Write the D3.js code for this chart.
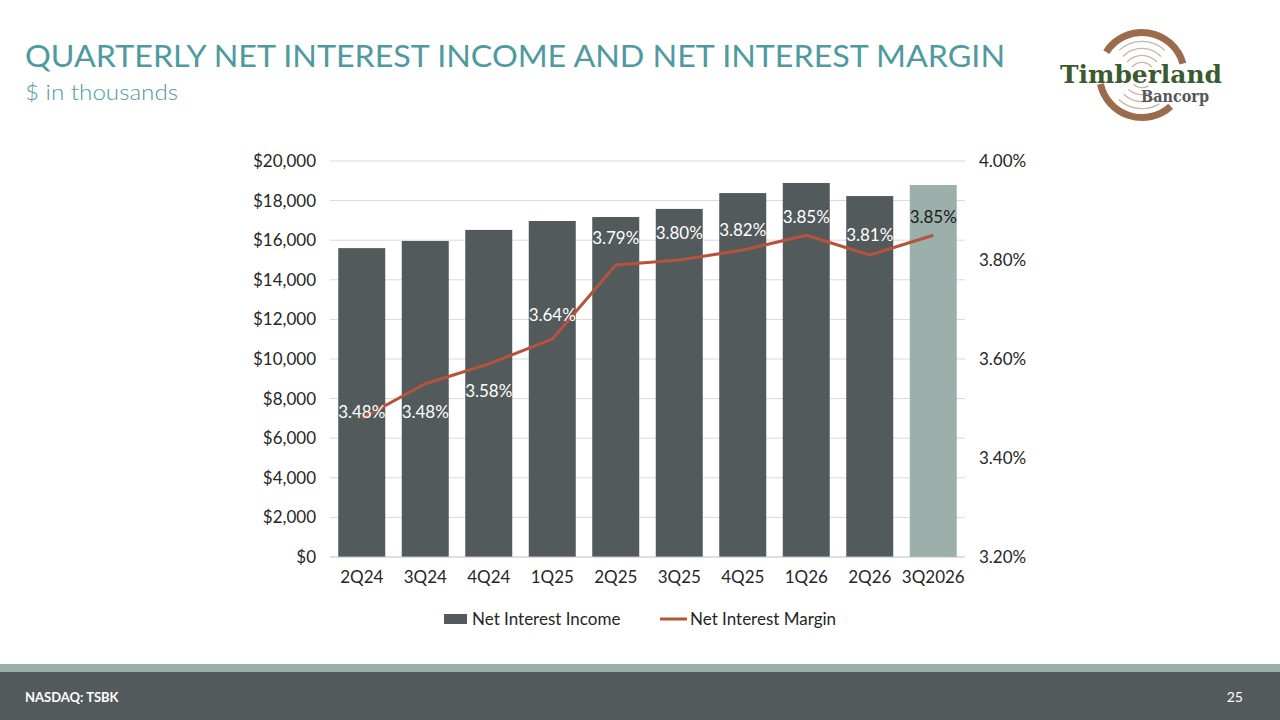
<!DOCTYPE html>
<html>
<head>
  <meta charset="utf-8">
  <title>Quarterly Net Interest Income and Net Interest Margin</title>
  <script src="https://d3js.org/d3.v7.min.js"></script>
  <style>
    body { margin: 0; background: #fff; }
    svg { display: block; font-family: Lato, "Open Sans", sans-serif; }
  </style>
</head>
<body>
  <svg width="1280" height="720"></svg>
  <script>
    // data
    var quarters = ["2Q24", "3Q24", "4Q24", "1Q25", "2Q25", "3Q25", "4Q25", "1Q26", "2Q26", "3Q2026"];
    var netInterestIncome = [15600, 15960, 16520, 16970, 17170, 17580, 18380, 18890, 18230, 18790];
    var netInterestMargin = [3.48, 3.55, 3.59, 3.64, 3.79, 3.80, 3.82, 3.85, 3.81, 3.85];
    var marginLabels = ["3.48%", "3.48%", "3.58%", "3.64%", "3.79%", "3.80%", "3.82%", "3.85%", "3.81%", "3.85%"];
    var leftTicks = [0, 2000, 4000, 6000, 8000, 10000, 12000, 14000, 16000, 18000, 20000];
    var rightTicks = [3.2, 3.4, 3.6, 3.8, 4.0];

    // label nudges (px, relative to the line point), labels were hand placed
    var labelShift = [-6, 28, 27, -24, -27, -27, -20, -18, -20, -18];

    var svg = d3.select("svg"),
        margin = {top: 161, left: 330, right: 315, bottom: 163},
        width = 1280 - margin.left - margin.right,
        height = 720 - margin.top - margin.bottom;

    var barColor = "#525a5c", lastBarColor = "#9bb0aa", lineColor = "#b5533c", teal = "#4e9aa0";
    var fs = "17px";

    // title
    svg.append("text")
        .attr("x", 25).attr("y", 67)
        .attr("fill", teal)
        .style("font-size", "31px").style("font-weight", 400)
        .attr("textLength", 980).attr("lengthAdjust", "spacingAndGlyphs")
        .text("QUARTERLY NET INTEREST INCOME AND NET INTEREST MARGIN");
    svg.append("text")
        .attr("x", 25).attr("y", 100)
        .attr("fill", teal)
        .style("font-size", "22px").style("font-weight", 300)
        .attr("textLength", 153).attr("lengthAdjust", "spacingAndGlyphs")
        .text("$ in thousands");

    // logo
    var logo = svg.append("g").attr("transform", "translate(1142,75)");
    var arc = d3.arc();
    logo.append("path")
        .attr("d", arc({innerRadius: 39, outerRadius: 46, startAngle: -1.0, endAngle: 1.3}))
        .attr("fill", "#9c6b4c");
    logo.append("path")
        .attr("d", arc({innerRadius: 39, outerRadius: 46, startAngle: 2.4, endAngle: 4.5}))
        .attr("fill", "#9c6b4c");
    [12, 19, 26, 33].forEach(function(r, i) {
      logo.append("path")
          .attr("d", arc({innerRadius: r, outerRadius: r + 1.3, startAngle: -0.9 + i * 0.05, endAngle: 0.9 - i * 0.05}))
          .attr("fill", "#c9b6a8");
      logo.append("path")
          .attr("d", arc({innerRadius: r, outerRadius: r + 1.3, startAngle: 2.6, endAngle: 3.9}))
          .attr("fill", "#c9b6a8");
    });
    logo.append("text")
        .attr("x", -1).attr("y", 8)
        .attr("text-anchor", "middle")
        .attr("fill", "#3c5a30")
        .style("font-family", "'DejaVu Serif', serif").style("font-weight", "bold")
        .style("font-size", "25px")
        .attr("textLength", 162).attr("lengthAdjust", "spacingAndGlyphs")
        .text("Timberland");
    logo.append("text")
        .attr("x", 33).attr("y", 27)
        .attr("text-anchor", "middle")
        .attr("fill", "#55585a")
        .style("font-family", "'DejaVu Serif', serif").style("font-weight", "bold")
        .style("font-size", "16px")
        .attr("textLength", 68).attr("lengthAdjust", "spacingAndGlyphs")
        .text("Bancorp");

    var g = svg.append("g")
        .attr("transform", "translate(" + margin.left + "," + margin.top + ")");

    var x = d3.scaleBand().domain(quarters).range([0, width]).paddingInner(0.26).paddingOuter(0.13),
        y = d3.scaleLinear().domain([0, 20000]).range([height, 0]),
        y2 = d3.scaleLinear().domain([3.2, 4.0]).range([height, 0]);

    // gridlines
    g.selectAll(".grid")
      .data(leftTicks.slice(1))
      .enter().append("line")
        .attr("x1", 0).attr("x2", width)
        .attr("y1", function(d) { return y(d); })
        .attr("y2", function(d) { return y(d); })
        .attr("stroke", "#d9d9d9").attr("stroke-width", 1);

    // bars
    g.selectAll(".bar")
      .data(netInterestIncome)
      .enter().append("rect")
        .attr("class", "bar")
        .attr("x", function(d, i) { return x(quarters[i]); })
        .attr("y", function(d) { return y(d); })
        .attr("width", x.bandwidth())
        .attr("height", function(d) { return height - y(d); })
        .attr("fill", function(d, i) { return i === quarters.length - 1 ? lastBarColor : barColor; });

    // baseline
    g.append("line")
        .attr("x1", 0).attr("x2", width)
        .attr("y1", height).attr("y2", height)
        .attr("stroke", "#bfbfbf");

    // axes
    var fmtDollar = function(d) { return "$" + d3.format(",")(d); };
    var leftAxis = g.append("g")
        .call(d3.axisLeft(y).tickValues(leftTicks).tickFormat(fmtDollar).tickSize(0).tickPadding(14));
    var rightAxis = g.append("g")
        .attr("transform", "translate(" + width + ",0)")
        .call(d3.axisRight(y2).tickValues(rightTicks).tickSize(0).tickPadding(14)
          .tickFormat(function(d) { return d.toFixed(2) + "%"; }));
    var bottomAxis = g.append("g")
        .attr("transform", "translate(0," + height + ")")
        .call(d3.axisBottom(x).tickSize(0).tickPadding(14));
    [leftAxis, rightAxis, bottomAxis].forEach(function(a) {
      a.select(".domain").remove();
      a.selectAll("text")
          .attr("fill", "#262626")
          .style("font-size", fs)
          .style("font-family", "Lato, 'Open Sans', sans-serif");
    });

    // margin line
    var line = d3.line()
        .x(function(d, i) { return x(quarters[i]) + x.bandwidth() / 2; })
        .y(function(d) { return y2(d); });
    g.append("path")
        .datum(netInterestMargin)
        .attr("d", line)
        .attr("fill", "none")
        .attr("stroke", lineColor)
        .attr("stroke-width", 3)
        .attr("stroke-linejoin", "round");

    // data labels
    g.selectAll(".lbl")
      .data(marginLabels)
      .enter().append("text")
        .attr("class", "lbl")
        .attr("x", function(d, i) { return x(quarters[i]) + x.bandwidth() / 2; })
        .attr("y", function(d, i) { return y2(netInterestMargin[i]) + labelShift[i]; })
        .attr("dy", "0.35em")
        .attr("text-anchor", "middle")
        .attr("fill", function(d, i) { return i === quarters.length - 1 ? "#1a1a1a" : "#ffffff"; })
        .style("font-size", fs)
        .text(function(d) { return d; });

    // legend
    var legend = svg.append("g").attr("transform", "translate(0,619)");
    legend.append("rect")
        .attr("x", 444).attr("y", -5).attr("width", 23).attr("height", 10)
        .attr("fill", barColor);
    legend.append("text")
        .attr("x", 472).attr("y", 0).attr("dy", "0.35em")
        .attr("fill", "#262626").style("font-size", fs)
        .text("Net Interest Income");
    legend.append("line")
        .attr("x1", 660).attr("x2", 687).attr("y1", 0).attr("y2", 0)
        .attr("stroke", lineColor).attr("stroke-width", 3);
    legend.append("text")
        .attr("x", 690).attr("y", 0).attr("dy", "0.35em")
        .attr("fill", "#262626").style("font-size", fs)
        .text("Net Interest Margin");

    // footer
    svg.append("rect").attr("x", 0).attr("y", 664).attr("width", 1280).attr("height", 8).attr("fill", "#9bb0aa");
    svg.append("rect").attr("x", 0).attr("y", 672).attr("width", 1280).attr("height", 48).attr("fill", barColor);
    svg.append("text")
        .attr("x", 25).attr("y", 702)
        .attr("fill", "#fff").style("font-size", "13px").style("font-weight", "bold")
        .text("NASDAQ: TSBK");
    svg.append("text")
        .attr("x", 1243).attr("y", 702)
        .attr("text-anchor", "end")
        .attr("fill", "#fff").style("font-size", "14px")
        .text("25");
  </script>
</body>
</html>
